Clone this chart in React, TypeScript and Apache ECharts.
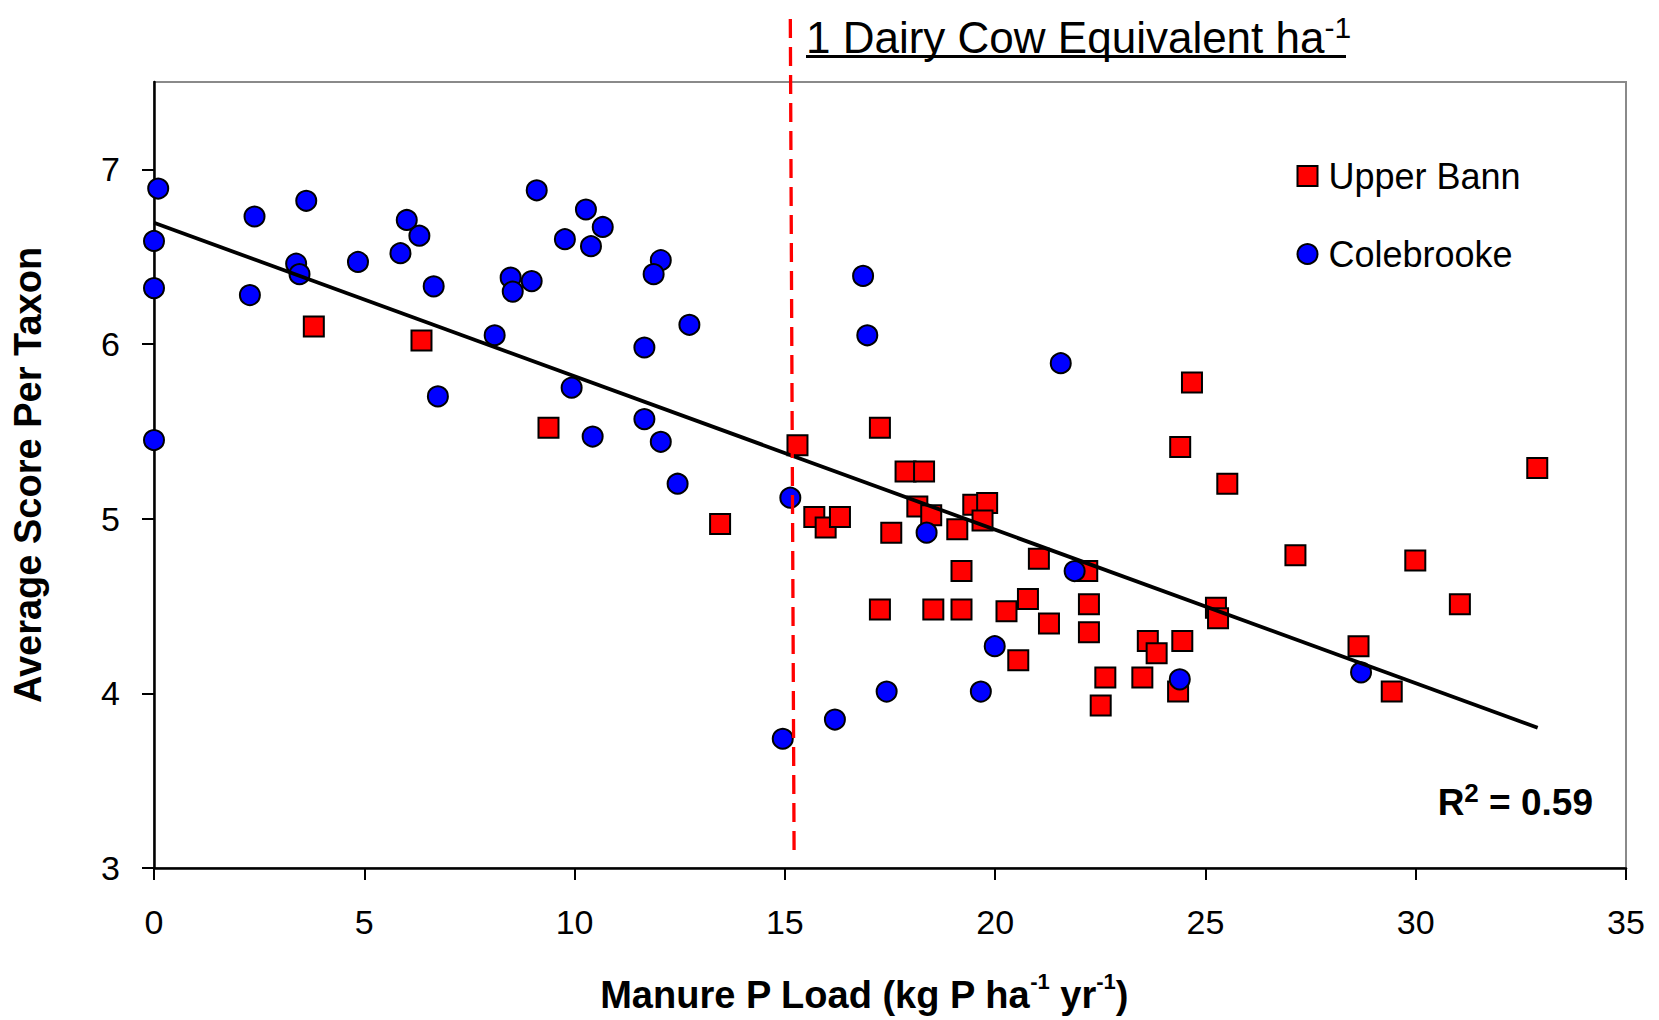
import React, { useEffect, useRef } from "react";
import * as echarts from "echarts";

// ---- data ----
const upperBannX = [3.80, 6.36, 9.38, 13.46, 15.30, 17.26, 17.87, 18.31, 18.15, 18.48, 19.48, 19.81, 15.70, 15.97, 16.31, 17.53, 19.10, 19.70, 21.04, 19.20, 22.19, 17.26, 18.53, 19.20, 20.27, 20.78, 21.28, 22.23, 22.23, 20.55, 22.62, 22.51, 27.14, 29.99, 31.05, 28.64, 29.43, 25.25, 25.30, 23.63, 24.45, 23.84, 23.50, 24.35, 24.68, 24.40, 25.52, 32.89];
const upperBannY = [6.10, 6.02, 5.52, 4.97, 5.42, 5.52, 5.27, 5.27, 5.07, 5.02, 5.08, 5.09, 5.01, 4.95, 5.01, 4.92, 4.94, 4.99, 4.77, 4.70, 4.70, 4.48, 4.48, 4.48, 4.47, 4.54, 4.40, 4.51, 4.35, 4.19, 4.09, 3.93, 4.79, 4.76, 4.51, 4.27, 4.01, 4.49, 4.43, 4.30, 4.30, 4.23, 4.09, 4.01, 5.78, 5.41, 5.20, 5.29];

const colebrookeX = [0.10, 2.39, 3.62, 0.0, 3.38, 3.46, 0.0, 2.28, 4.85, 6.01, 6.31, 5.86, 6.65, 6.75, 0.0, 9.10, 10.27, 10.67, 9.77, 10.39, 8.48, 8.98, 8.53, 8.10, 9.93, 10.43, 12.05, 11.88, 12.73, 11.66, 16.86, 16.96, 21.56, 11.66, 12.05, 12.45, 15.13, 18.37, 21.89, 19.99, 17.42, 19.66, 16.19, 14.95, 24.39, 28.70];
const colebrookeY = [6.89, 6.73, 6.82, 6.59, 6.46, 6.40, 6.32, 6.28, 6.47, 6.71, 6.62, 6.52, 6.33, 5.70, 5.45, 6.88, 6.77, 6.67, 6.60, 6.56, 6.38, 6.36, 6.30, 6.05, 5.75, 5.47, 6.48, 6.40, 6.11, 5.98, 6.39, 6.05, 5.89, 5.57, 5.44, 5.20, 5.12, 4.92, 4.70, 4.27, 4.01, 4.01, 3.85, 3.74, 4.08, 4.12];

const trendX = [0, 32.9];
const trendY = [6.694, 3.803];

const xTicks = [0, 5, 10, 15, 20, 25, 30, 35];
const yTicks = [3, 4, 5, 6, 7];

// threshold line: 1 dairy cow equivalent (slightly slanted in the original)
const thresholdTopX = 15.13;
const thresholdBottomX = 15.22;

const seriesNames = ["Upper Bann", "Colebrooke"];
const r2Text = "0.59";

const FONT = "'Liberation Sans', Arial, Helvetica, sans-serif";

export default function App() {
  const ref = useRef<HTMLDivElement>(null);

  useEffect(() => {
    document.body.style.margin = "0";
    const chart = echarts.init(ref.current as HTMLDivElement, null, { renderer: "svg" });

    const option: any = {
      animation: false,
      backgroundColor: "#ffffff",
      textStyle: { fontFamily: FONT },
      grid: {
        left: 152.5,
        right: 33,
        top: 82,
        bottom: 152,
        show: true,
        borderColor: "#8a8a8a",
        borderWidth: 2,
        backgroundColor: "transparent",
      },
      xAxis: {
        type: "value",
        min: xTicks[0],
        max: xTicks[xTicks.length - 1],
        interval: 5,
        splitLine: { show: false },
        axisLine: { show: true, onZero: false, lineStyle: { color: "#000", width: 2.5 } },
        axisTick: { show: true, inside: false, length: 12, lineStyle: { color: "#000", width: 2 } },
        axisLabel: { fontSize: 34, color: "#000", fontFamily: FONT, margin: 37 },
        name: "{m|Manure P Load (kg P ha}{s|-1}{m| yr}{s|-1}{m|)}",
        nameLocation: "middle",
        nameGap: 102,
        nameTextStyle: {
          padding: [0, 52, 0, 0],
          rich: {
            m: { fontSize: 38, fontWeight: "bold", fontFamily: FONT, color: "#000", lineHeight: 50 },
            s: { fontSize: 22, fontWeight: "bold", fontFamily: FONT, color: "#000", lineHeight: 24, verticalAlign: "top" },
          },
        },
      },
      yAxis: {
        type: "value",
        min: 3,
        max: 7.5,
        interval: 1,
        splitLine: { show: false },
        axisLine: { show: true, onZero: false, lineStyle: { color: "#000", width: 2.5 } },
        axisTick: { show: true, inside: false, length: 12, lineStyle: { color: "#000", width: 2 }, customValues: yTicks },
        axisLabel: {
          fontSize: 34,
          color: "#000",
          fontFamily: FONT,
          margin: 34,
          customValues: yTicks,
          formatter: (v: number) => (Number.isInteger(v) ? String(v) : ""),
        },
        name: "Average Score Per Taxon",
        nameLocation: "middle",
        nameGap: 106,
        nameTextStyle: { fontSize: 38, fontWeight: "bold", fontFamily: FONT, color: "#000", lineHeight: 40 },
      },
      legend: {
        orient: "vertical",
        left: 1296.5,
        top: 154,
        padding: 0,
        itemWidth: 20,
        itemHeight: 20,
        itemGap: 34,
        selectedMode: false,
        textStyle: { fontSize: 36, fontFamily: FONT, color: "#000", lineHeight: 44, padding: [0, 0, 0, 6] },
        data: [
          { name: seriesNames[0], icon: "rect" },
          { name: seriesNames[1], icon: "circle" },
        ],
      },
      series: [
        {
          name: seriesNames[0],
          type: "scatter",
          symbol: "rect",
          symbolSize: 20,
          data: upperBannX.map((x, i) => [x, upperBannY[i]]),
          itemStyle: { color: "#FF0000", borderColor: "#000", borderWidth: 2, opacity: 1 },
          z: 2,
          silent: true,
        },
        {
          name: seriesNames[1],
          type: "scatter",
          symbol: "circle",
          symbolSize: 20,
          data: colebrookeX.map((x, i) => [x, colebrookeY[i]]),
          itemStyle: { color: "#0000FF", borderColor: "#000", borderWidth: 2, opacity: 1 },
          z: 3,
          silent: true,
        },
        {
          name: "Trend",
          type: "line",
          data: trendX.map((x, i) => [x, trendY[i]]),
          showSymbol: false,
          symbol: "none",
          lineStyle: { color: "#000", width: 3.8 },
          z: 4,
          silent: true,
        },
      ],
    };

    chart.setOption(option);

    const pTop = chart.convertToPixel({ gridIndex: 0 }, [thresholdTopX, 7.5]) as number[];
    const pBot = chart.convertToPixel({ gridIndex: 0 }, [thresholdBottomX, 3]) as number[];

    chart.setOption({
      graphic: [
        {
          type: "line",
          z: 100,
          shape: { x1: pTop[0], y1: 19, x2: pBot[0], y2: pBot[1] - 11 },
          style: { stroke: "#FF0000", lineWidth: 3.3, lineDash: [19, 9] },
          silent: true,
        },
        {
          type: "text",
          z: 100,
          x: 806,
          y: 12,
          style: {
            text: "{m|1 Dairy Cow Equivalent ha}{s|-1}",
            align: "left",
            verticalAlign: "top",
            rich: {
              m: { fontSize: 44, fontFamily: FONT, fill: "#000", lineHeight: 50 },
              s: { fontSize: 30, fontFamily: FONT, fill: "#000", lineHeight: 20, verticalAlign: "top" },
            },
          },
          silent: true,
        },
        {
          type: "line",
          z: 100,
          shape: { x1: 806, y1: 56.5, x2: 1346, y2: 56.5 },
          style: { stroke: "#000", lineWidth: 3 },
          silent: true,
        },
        {
          type: "text",
          z: 100,
          x: 1593,
          y: 780,
          style: {
            text: "{m|R}{s|2}{m| = " + r2Text + "}",
            align: "right",
            verticalAlign: "top",
            rich: {
              m: { fontSize: 37, fontWeight: "bold", fontFamily: FONT, fill: "#000", lineHeight: 44 },
              s: { fontSize: 26, fontWeight: "bold", fontFamily: FONT, fill: "#000", lineHeight: 20, verticalAlign: "top" },
            },
          },
          silent: true,
        },
      ],
    });

    return () => chart.dispose();
  }, []);

  return <div ref={ref} style={{ width: 1659, height: 1020, overflow: "hidden" }} />;
}
